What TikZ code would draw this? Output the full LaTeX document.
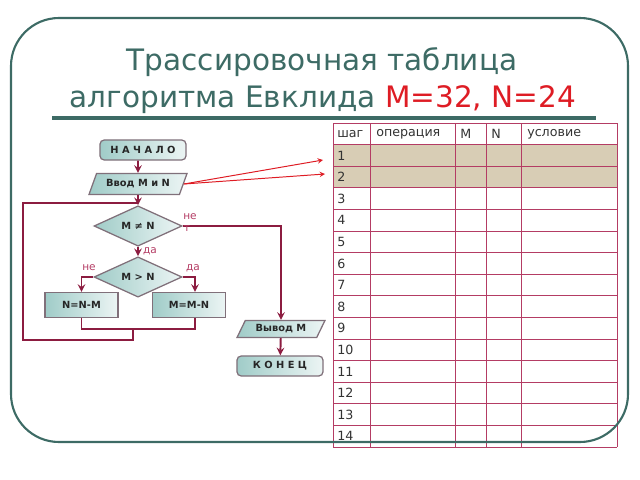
\documentclass[tikz,border=0pt]{standalone}
\usepackage{fontspec}
\setmainfont{DejaVu Sans}
\usetikzlibrary{shapes.geometric, arrows, positioning}
\definecolor{euclidteal}{RGB}{61,107,101}
\definecolor{euclidred}{RGB}{222,28,36}
\definecolor{euclidwine}{RGB}{140,28,64}
\definecolor{euclidgrid}{RGB}{180,60,100}
\definecolor{euclidtan}{RGB}{216,205,181}
\definecolor{euclidbox}{RGB}{160,204,200}
\definecolor{euclidedge}{RGB}{128,112,122}

\begin{document}
\begin{tikzpicture}[
    x=0.025cm, y=-0.025cm,
    every node/.style={font=\footnotesize},
    tealbox/.style={draw=euclidedge, line width=0.9pt, left color=euclidbox, right color=euclidbox!20, font=\bfseries\fontsize{7}{8}\selectfont, text=black!85, inner sep=0pt},
    terminal/.style={tealbox, rectangle, rounded corners=3pt, minimum width=2.15cm, minimum height=0.5cm},
    process/.style={tealbox, rectangle, minimum width=1.82cm, minimum height=0.62cm},
    decision/.style={tealbox, diamond, minimum width=2.2cm, minimum height=0.76cm},
    io/.style={tealbox, trapezium, trapezium left angle=56, trapezium right angle=124, trapezium stretches=true, minimum width=2.45cm, minimum height=0.52cm},
    arrow/.style={->, >=stealth, line width=1.4pt, color=euclidwine},
    link/.style={line width=1.4pt, color=euclidwine},
    pointer/.style={->, >=stealth, line width=0.7pt, color=euclidred},
    answer/.style={font=\fontsize{7.5}{8}\selectfont, text=euclidgrid, inner sep=0pt},
    tableline/.style={line width=0.6pt, color=euclidgrid},
    cell/.style={font=\fontsize{9}{10}\selectfont, text=black!80, anchor=west, inner sep=0pt},
    title/.style={font=\fontsize{21}{25}\selectfont, text=euclidteal}
]
\useasboundingbox (0,0) rectangle (640,480);

% title
\node[title] (title1) at (322,62) {Трассировочная таблица};
\node[title] (title2) at (323,100) {алгоритма Евклида \textcolor{euclidred}{M=32, N=24}};
\draw[euclidteal, line width=2.2pt] (52,118) -- (596,118);

% trace table
\fill[euclidtan] (333,144.6) rectangle (617,187.8);
\foreach \i in {0,...,15}
    \draw[tableline] (333,{123+21.6*\i}) -- (617,{123+21.6*\i});
\foreach \x in {333,370,455,486,521,617}
    \draw[tableline] (\x,123) -- (\x,447);
\node[cell] (hstep) at (337,134) {шаг};
\node[cell] (hop) at (376,134) {операция};
\node[cell] (hm) at (460,134) {M};
\node[cell] (hn) at (491,134) {N};
\node[cell] (hcond) at (527,134) {условие};
\foreach \n in {1,...,14}
    \node[cell] (n\n) at (337,{123+21.6*\n+10.8}) {\n};

% frame
\draw[euclidteal, line width=1.5pt, rounded corners=1.2cm] (11,18) rectangle (628,442);

% flowchart
\node[terminal] (begin) at (143,150) {Н А Ч А Л О};
\node[io] (input) at (138,184) {Ввод M и N};
\node[decision] (neq) at (138,226) {M ≠ N};
\node[decision] (gt) at (138,277) {M > N};
\node[process] (nnm) at (81.5,305) {N=N-M};
\node[process] (mmn) at (189,305) {M=M-N};
\node[io, minimum width=2.2cm, minimum height=0.42cm] (output) at (281,329) {Вывод M};
\node[terminal] (finish) at (280,366) {К О Н Е Ц};

\coordinate (join) at (138,203);
\coordinate (merge) at (133,329);
\coordinate (loopcorner) at (23,340);
\coordinate (row1in) at (323,160);
\coordinate (row2in) at (325,174);

\draw[arrow] (input.north |- begin.south) -- (input);
\draw[arrow] (input) -- (neq);
\draw[arrow] (neq.east) -| (output.north);
\draw[arrow] (neq) -- node[answer, right=3pt] (yes1) {да} (gt);
\draw[arrow] (gt.west) -| (nnm.north);
\draw[arrow] (gt.east) -| ([xshift=0.15cm]mmn.north);
\draw[link] (nnm.south) |- (merge) -| ([xshift=0.15cm]mmn.south);
\draw[link] (merge) |- (loopcorner) |- (join);
\draw[arrow] (output) -- (finish);

\node[answer] (no1) at (190,217) {не};
\node[answer] (no1b) at (187,229) {т};
\node[answer] (no2) at (89,268) {не};
\node[answer] (yes2) at (193,268) {да};

\draw[pointer] (input.east) -- (row1in);
\draw[pointer] (input.east) -- (row2in);

\end{tikzpicture}
\end{document}
